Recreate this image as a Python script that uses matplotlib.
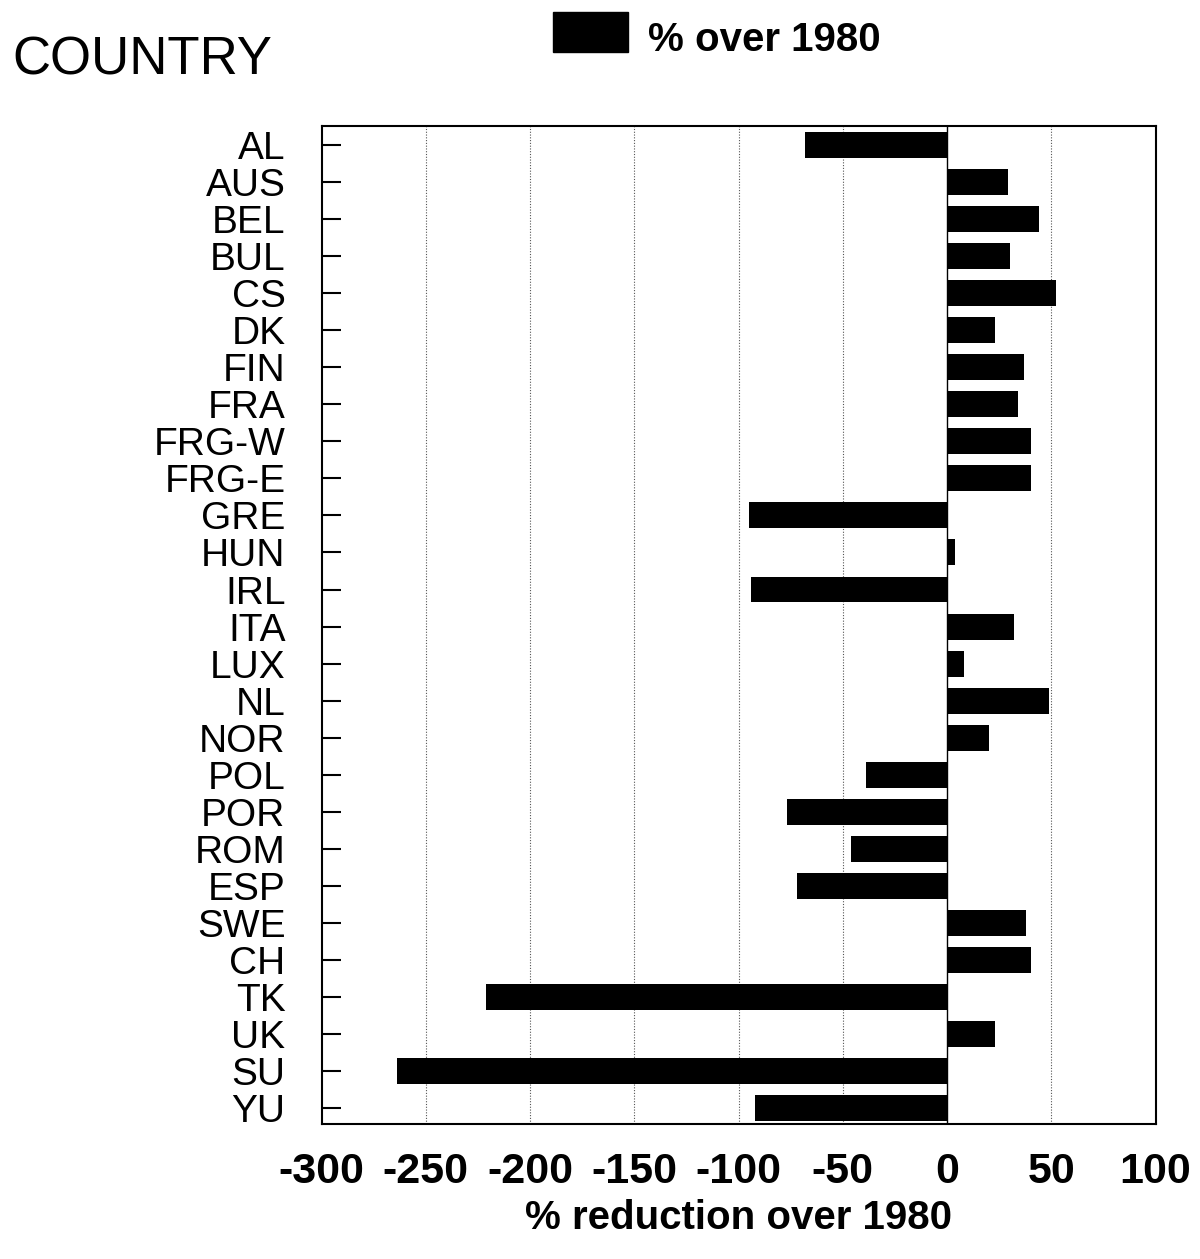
import matplotlib
matplotlib.use("Agg")
import matplotlib.pyplot as plt
from matplotlib.patches import Rectangle

countries = ["AL", "AUS", "BEL", "BUL", "CS", "DK", "FIN", "FRA", "FRG-W", "FRG-E",
             "GRE", "HUN", "IRL", "ITA", "LUX", "NL", "NOR", "POL", "POR", "ROM",
             "ESP", "SWE", "CH", "TK", "UK", "SU", "YU"]
values = [-68, 29, 44, 30, 52, 23, 37, 34, 40, 40,
          -95, 4, -94, 32, 8, 49, 20, -39, -77, -46,
          -72, 38, 40, -221, 23, -264, -92]
xticks = [-300, -250, -200, -150, -100, -50, 0, 50, 100]
xtick_labels = ["-300", "-250", "-200", "-150", "-100", "-50", "0", "50", "100"]

fig = plt.figure(figsize=(12, 12.59), dpi=100)
ax = fig.add_axes([0.268, 0.107, 0.695, 0.793])

ypos = list(range(len(countries)))
ax.barh(ypos, values, height=0.7, color="black", zorder=3)
ax.axvline(0, color="black", lw=1.0, zorder=2)

ax.set_xlim(-300, 100)
ax.set_ylim(26.43, -0.51)
ax.set_xticks(xticks)
ax.set_xticklabels(xtick_labels, fontfamily="Liberation Sans", fontweight="bold", fontsize=31)
ax.set_yticks(ypos)
ax.set_yticklabels(countries, fontfamily="Liberation Sans", fontsize=28)

for x in [-250, -200, -150, -100, -50, 50]:
    ax.axvline(x, color="#555555", lw=0.8, ls=(0, (1, 1.5)), zorder=1)

ax.tick_params(axis="y", direction="in", length=14, width=1.5, pad=26, left=True, right=False)
ax.tick_params(axis="x", length=0, pad=20)
for s in ax.spines.values():
    s.set_linewidth(1.5)

ax.set_xlabel("% reduction over 1980", fontfamily="Liberation Sans", fontweight="bold",
              fontsize=29, labelpad=5)

fig.text(0.01, 0.952, "COUNTRY", fontfamily="Liberation Sans", fontsize=38,
         ha="left", va="center")

fig.patches.append(Rectangle((553 / 1200, 1 - 52 / 1259), 75 / 1200, 40 / 1259,
                             transform=fig.transFigure, facecolor="black",
                             edgecolor="black", figure=fig))
fig.text(648 / 1200, 1 - 40 / 1259, "% over 1980", fontfamily="Liberation Sans",
         fontweight="bold", fontsize=29, ha="left", va="center")

fig.savefig("out.png", dpi=100)
